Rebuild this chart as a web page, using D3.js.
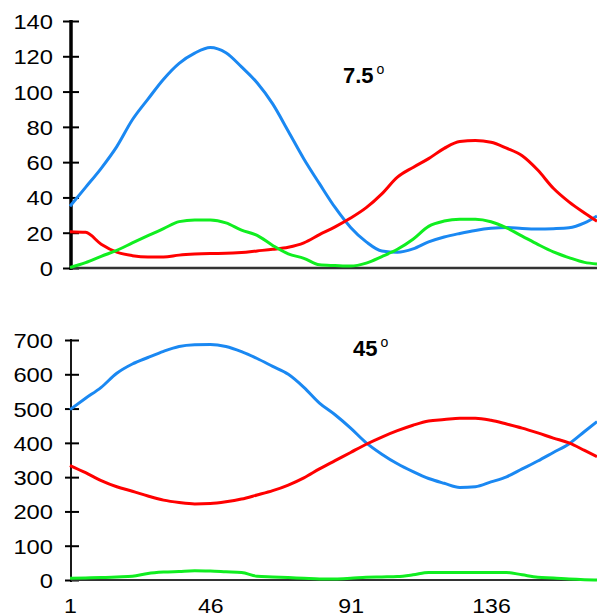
<!DOCTYPE html>
<html>
<head>
<meta charset="utf-8">
<script src="https://cdn.jsdelivr.net/npm/d3@7/dist/d3.min.js"></script>
<style>
  body { margin: 0; background: #fff; }
  svg { display: block; font-family: "Liberation Sans", Arial, sans-serif; }
</style>
</head>
<body>
<div id="chart"></div>
<script>
// day of the year (sampled every 5 days)
var days = [1, 6, 11, 16, 21, 26, 31, 36, 41, 46, 51, 56, 61, 66, 71, 76, 81, 86, 91,
    96, 101, 106, 111, 116, 121, 126, 131, 136, 141, 146, 151, 156, 161, 166, 170];
var xTickValues = [1, 46, 91, 136];

// 7.5 deg panel
var top_blue = [35, 45.7, 56.5, 68.8, 84, 95.7, 107, 116, 121.8, 125, 122, 114, 105, 93, 77.5,
    61.8, 47.8, 34.3, 23, 14.8, 9.6, 8.9, 10.8, 14.8, 17.6, 19.6, 21.3, 22.5, 23, 22.4,
    22.1, 22.3, 22.8, 25.6, 29.5];
var top_red = [20.6, 20.2, 13.5, 9, 7, 6.2, 6.2, 7.3, 7.9, 8.2, 8.3, 8.8, 9.7, 10.6, 11.8,
    14.3, 18.9, 23.3, 28.3, 34.2, 42, 51.5, 57, 62, 67.8, 71.7, 72.2, 71.3, 67.9, 63.6,
    55.5, 45.2, 37.5, 31.2, 26.5];
var top_green = [0.3, 3, 6.6, 10, 14.2, 18.3, 22.3, 26.3, 27.2, 27.2, 25.6, 21.5, 18.5, 12.8, 8,
    5.5, 1.8, 1.4, 1.1, 2.8, 6.5, 10.6, 16.3, 23.6, 26.6, 27.6, 27.6, 26.2, 22.7, 18.1,
    13.4, 9.1, 5.9, 3.2, 2.3];
var top_ticks = [0, 20, 40, 60, 80, 100, 120, 140];

// 45 deg panel
var bot_blue = [497, 530, 562, 603, 630, 649, 667, 681, 686, 687, 681, 666, 646, 623, 600,
    562, 516, 482, 443, 400, 367, 339, 316, 296, 282, 270, 272, 286, 301, 324,
    347, 372, 397, 433, 462];
var bot_red = [334, 313, 290, 272, 259, 245, 233, 226, 222, 223, 228, 236, 248, 260.5, 277,
    298, 324, 348, 372, 396, 417, 435.5, 451.5, 464, 468, 472, 472, 466, 455, 443,
    429, 414, 400, 378, 360];
var bot_green = [5, 6, 7, 9, 11, 19, 23, 25, 27, 26, 24, 22, 11, 9, 7,
    5, 3, 3, 5, 8, 9, 10, 15, 22, 22, 22, 22, 22, 22, 15,
    8, 6, 3, 1, 0];
var bot_ticks = [0, 100, 200, 300, 400, 500, 600, 700];

var colors = { blue: "#1a88f2", red: "#ff0000", green: "#10ee20" };

var width = 597, height = 616;

var svg = d3.select("#chart")
    .append("svg")
    .attr("width", width)
    .attr("height", height);

var x = d3.scaleLinear()
    .domain([1, 170])
    .range([70, 597]);

// the labels in the picture are a bit wider than plain Arial
function stretch(sel, k) {
    sel.each(function() {
        var len = this.getComputedTextLength();
        d3.select(this)
            .attr("textLength", len * k)
            .attr("lengthAdjust", "spacingAndGlyphs");
    });
}

function panel(cfg) {
    var y = d3.scaleLinear()
        .domain([0, cfg.max])
        .range(cfg.range);

    var g = svg.append("g");

    // y axis
    var ya = g.append("g")
        .attr("transform", "translate(" + cfg.axisX + ",0)")
        .call(d3.axisLeft(y).tickValues(cfg.ticks).tickSizeOuter(0).tickPadding(10));
    ya.select(".domain").remove();
    ya.selectAll(".tick line")
        .attr("x1", cfg.tickLeft)
        .attr("x2", 8)
        .attr("stroke", "#000")
        .attr("stroke-width", cfg.tickWidth);
    ya.selectAll(".tick text")
        .attr("x", -18)
        .attr("dy", "0.36em")
        .style("font-size", "21px")
        .attr("fill", "#000")
        .call(stretch, 1.13);

    g.append("line")
        .attr("x1", cfg.axisX).attr("x2", cfg.axisX)
        .attr("y1", y(0) + 2).attr("y2", y(cfg.max) - 1)
        .attr("stroke", "#000")
        .attr("stroke-width", cfg.axisWidth);

    // x axis line
    g.append("line")
        .attr("x1", cfg.axisX).attr("x2", width)
        .attr("y1", y(0)).attr("y2", y(0))
        .attr("stroke", "#333")
        .attr("stroke-width", cfg.xAxisWidth);

    var line = d3.line()
        .x(function(d, i) { return x(days[i]); })
        .y(function(d) { return y(d); })
        .curve(d3.curveMonotoneX);

    cfg.series.forEach(function(s) {
        g.append("path")
            .datum(s.values)
            .attr("fill", "none")
            .attr("stroke", s.color)
            .attr("stroke-width", 3)
            .attr("stroke-linejoin", "round")
            .attr("d", line);
    });

    // angle label
    var lab = g.append("text")
        .attr("x", cfg.labelX)
        .attr("y", cfg.labelY)
        .style("font-size", "22px")
        .style("font-weight", "bold")
        .attr("fill", "#000");
    lab.append("tspan").text(cfg.label);
    lab.append("tspan")
        .attr("dx", 3)
        .attr("dy", -9)
        .style("font-size", "14px")
        .style("font-weight", "normal")
        .text("o");

    return { g: g, y: y };
}

var p1 = panel({
    max: 140, range: [268, 21], ticks: top_ticks, axisX: 71,
    tickLeft: -8, tickWidth: 2, axisWidth: 3.5, xAxisWidth: 2.5,
    label: "7.5", labelX: 343, labelY: 83,
    series: [
        { values: top_blue, color: colors.blue },
        { values: top_red, color: colors.red },
        { values: top_green, color: colors.green }
    ]
});

var p2 = panel({
    max: 700, range: [580, 340], ticks: bot_ticks, axisX: 71,
    tickLeft: -6, tickWidth: 2, axisWidth: 1.8, xAxisWidth: 2,
    label: "45", labelX: 353, labelY: 356,
    series: [
        { values: bot_blue, color: colors.blue },
        { values: bot_red, color: colors.red },
        { values: bot_green, color: colors.green }
    ]
});

// day labels under the lower panel
var xa = p2.g.append("g")
    .attr("transform", "translate(0," + p2.y(0) + ")")
    .call(d3.axisBottom(x).tickValues(xTickValues).tickSize(0).tickPadding(18).tickFormat(d3.format("d")));
xa.select(".domain").remove();
xa.selectAll(".tick text")
    .style("font-size", "21px")
    .attr("fill", "#000")
    .call(stretch, 1.1);
</script>
</body>
</html>
